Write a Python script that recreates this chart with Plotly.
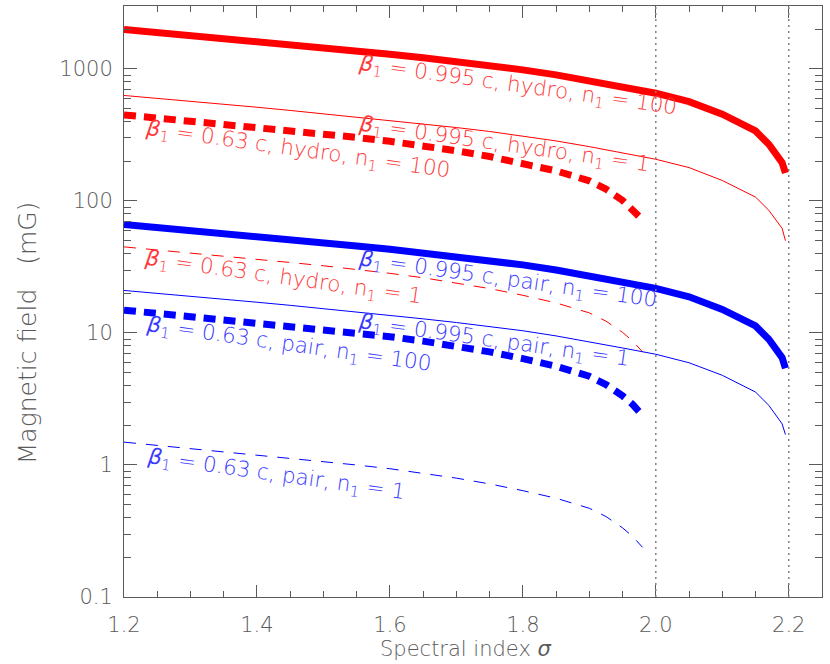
import plotly.graph_objects as go

# sigma grid for the beta = 0.995 c curves (cut-off near 2.2)
sigma_fast = [1.20, 1.25, 1.30, 1.35, 1.40, 1.45, 1.50, 1.55, 1.60, 1.65, 1.70, 1.75,
              1.80, 1.85, 1.90, 1.95, 2.00, 2.05, 2.10, 2.15, 2.17, 2.19, 2.195]
b_fast_hydro_100 = [1995, 1897, 1803, 1710, 1622, 1535, 1449, 1368, 1294, 1216, 1140, 1064,
                    984, 902, 817, 735, 655, 565, 454, 339, 269, 195, 163]
b_fast_hydro_1 = [630, 600, 570, 540, 513, 485, 458, 432, 409, 384, 360, 336,
                  311, 285, 258, 232, 207, 179, 143, 107, 85, 62, 50]
b_fast_pair_100 = [66.4, 63.2, 60.0, 56.9, 54.0, 51.1, 48.3, 45.6, 43.1, 40.5, 38.0, 35.4,
                   32.8, 30.0, 27.2, 24.5, 21.8, 18.8, 15.1, 11.3, 8.96, 6.5, 5.4]
b_fast_pair_1 = [21.0, 20.0, 19.0, 18.0, 17.1, 16.2, 15.3, 14.4, 13.6, 12.8, 12.0, 11.2,
                 10.4, 9.5, 8.6, 7.7, 6.9, 5.95, 4.78, 3.57, 2.83, 2.05, 1.7]

# sigma grid for the beta = 0.63 c curves (cut-off near 2.0)
sigma_slow = [1.20, 1.25, 1.30, 1.35, 1.40, 1.45, 1.50, 1.55, 1.60, 1.65, 1.70, 1.75,
              1.80, 1.85, 1.90, 1.925, 1.95, 1.965, 1.98]
b_slow_hydro_100 = [449, 426, 403, 381, 361, 342, 323, 303, 283, 262, 240, 217,
                    193, 169, 142, 123, 101, 87, 72]
b_slow_hydro_1 = [44.9, 42.6, 40.3, 38.1, 36.1, 34.2, 32.3, 30.3, 28.3, 26.2, 24.0, 21.7,
                  19.3, 16.9, 14.2, 12.3, 10.1, 8.7, 7.2]
b_slow_pair_100 = [14.9, 14.1, 13.3, 12.6, 11.95, 11.3, 10.7, 10.0, 9.37, 8.68, 7.95, 7.19,
                   6.39, 5.60, 4.70, 4.07, 3.34, 2.88, 2.38]
b_slow_pair_1 = [1.49, 1.41, 1.33, 1.26, 1.195, 1.13, 1.07, 1.00, 0.937, 0.868, 0.795, 0.719,
                 0.639, 0.560, 0.470, 0.407, 0.334, 0.288, 0.238]

cutoffs = [2.0, 2.2]
y_ticks = [0.1, 1, 10, 100, 1000]
y_ticktext = ["0.1", "1", "10", "100", "1000"]
y_minor = [m * d for d in [0.1, 1, 10, 100, 1000] for m in range(2, 10)]

RED = "#ff0000"
BLUE = "#0000ff"
RED_TXT = "#ff3a3a"
BLUE_TXT = "#3a3aff"
GREY = "#5a5a5a"
FONT = "DejaVu Sans"

curves = [
    (sigma_fast, b_fast_hydro_100, RED, 7, "solid"),
    (sigma_fast, b_fast_hydro_1, RED, 1, "solid"),
    (sigma_slow, b_slow_hydro_100, RED, 7, "12px,8px"),
    (sigma_slow, b_slow_hydro_1, RED, 1, "12px,10px"),
    (sigma_fast, b_fast_pair_100, BLUE, 7, "solid"),
    (sigma_fast, b_fast_pair_1, BLUE, 1, "solid"),
    (sigma_slow, b_slow_pair_100, BLUE, 7, "12px,8px"),
    (sigma_slow, b_slow_pair_1, BLUE, 1, "12px,10px"),
]

fig = go.Figure()

for xs, ys, col, w, dash in curves:
    fig.add_trace(go.Scatter(x=xs, y=ys, mode="lines",
                             line=dict(color=col, width=w, dash=dash),
                             showlegend=False, hoverinfo="skip"))

# same first curve on the mirrored axes so that they get drawn (invisible)
fig.add_trace(go.Scatter(x=sigma_fast, y=b_fast_hydro_100, xaxis="x2", yaxis="y2",
                         mode="lines", line=dict(width=0, color="rgba(0,0,0,0)"),
                         showlegend=False, hoverinfo="skip"))

for c in cutoffs:
    fig.add_shape(type="line", x0=c, x1=c, y0=0, y1=1, xref="x", yref="paper",
                  line=dict(color="#808080", width=1.5, dash="2px,4px"))

# curve labels (x in sigma, y in log10 of field)
labels = [
    ("0.995 c, hydro", "100", 1.792, 2.864, RED_TXT),
    ("0.995 c, hydro", "1", 1.772, 2.417, RED_TXT),
    ("0.63 c, hydro", "100", 1.461, 2.386, RED_TXT),
    ("0.995 c, pair", "100", 1.777, 1.394, BLUE_TXT),
    ("0.63 c, hydro", "1", 1.439, 1.409, RED_TXT),
    ("0.995 c, pair", "1", 1.757, 0.939, BLUE_TXT),
    ("0.63 c, pair", "100", 1.448, 0.909, BLUE_TXT),
    ("0.63 c, pair", "1", 1.428, -0.076, BLUE_TXT),
]
for txt, n, lx, ly, col in labels:
    fig.add_annotation(x=lx, y=ly, xref="x", yref="y", showarrow=False,
                       text="<i>β</i><sub>1</sub> = " + txt + ", n<sub>1</sub> = " + n,
                       textangle=8, font=dict(family=FONT, size=21.5, color=col, weight=200))

fig.add_annotation(x=-0.139, y=0.448, xref="paper", yref="paper", showarrow=False,
                   text="Magnetic field   (mG)", textangle=-90,
                   xanchor="center", yanchor="middle",
                   font=dict(family=FONT, size=25, color=GREY, weight=200))
fig.add_annotation(x=0.49, y=-0.112, xref="paper", yref="paper", showarrow=False,
                   text="Spectral index <i>σ</i>", xanchor="center", yanchor="bottom",
                   font=dict(family=FONT, size=21, color=GREY, weight=200))

axis_common = dict(showgrid=False, zeroline=False, showline=True, linecolor=GREY,
                   linewidth=1, ticks="inside", tickcolor=GREY, automargin=False)
tick_font = dict(family=FONT, size=21, color=GREY, weight=200)

fig.update_layout(
    width=830, height=664,
    margin=dict(l=124, r=8, t=6, b=67),
    paper_bgcolor="white", plot_bgcolor="white",
    showlegend=False,
    xaxis=dict(range=[1.2, 2.25], dtick=0.2, tick0=1.2, tickformat=".1f",
               ticklen=12, ticklabelstandoff=9, tickfont=tick_font,
               minor=dict(ticks="inside", ticklen=6, dtick=0.05, tick0=1.2,
                          tickcolor=GREY, showgrid=False),
               **axis_common),
    yaxis=dict(type="log", range=[-1, 3.477], tickvals=y_ticks, ticktext=y_ticktext,
               ticklen=13, ticklabelstandoff=6, tickfont=tick_font,
               minor=dict(ticks="inside", ticklen=7, tickvals=y_minor,
                          tickcolor=GREY, showgrid=False),
               **axis_common),
    xaxis2=dict(overlaying="x", side="top", anchor="y2", range=[1.2, 2.25], dtick=0.2,
                tick0=1.2, ticklen=12, showticklabels=False,
                minor=dict(ticks="inside", ticklen=6, dtick=0.05, tick0=1.2,
                           tickcolor=GREY, showgrid=False),
                **axis_common),
    yaxis2=dict(overlaying="y", side="right", anchor="x2", type="log", range=[-1, 3.477],
                tickvals=y_ticks, ticklen=13, showticklabels=False,
                minor=dict(ticks="inside", ticklen=7, tickvals=y_minor,
                           tickcolor=GREY, showgrid=False),
                **axis_common),
)

# the page body has a default 8px margin; drop it so the figure fills the window
fig.write_html("out.html", config={"displayModeBar": False},
               post_script="document.body.style.margin = '0';")
